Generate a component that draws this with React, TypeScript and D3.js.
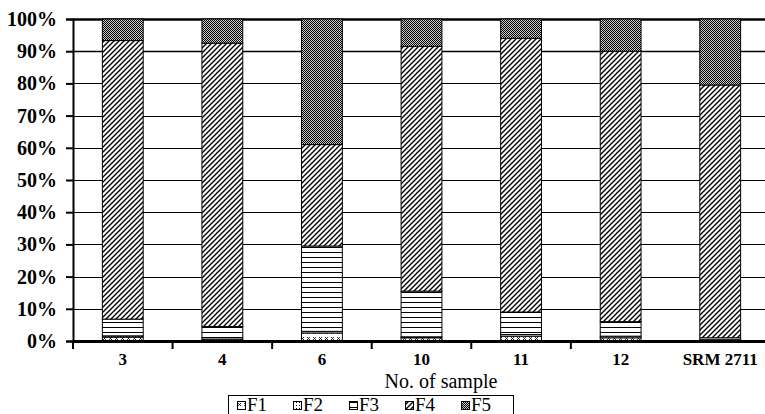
import React, { useEffect, useRef } from "react";
import * as d3 from "d3";

const samples = ["3", "4", "6", "10", "11", "12", "SRM 2711"];
const seriesNames = ["F1", "F2", "F3", "F4", "F5"];
// percentages of each fraction, bottom to top
const F1 = [1.2, 0.4, 2.5, 1.0, 1.5, 1.0, 0.2];
const F2 = [0.4, 0.6, 0.5, 0.3, 0.5, 0.5, 0.2];
const F3 = [5.2, 3.5, 26.5, 14.2, 7.0, 4.5, 0.6];
const F4 = [86.5, 88.0, 31.5, 76.0, 85.0, 84.0, 78.5];
const F5 = [6.7, 7.5, 39.0, 8.5, 6.0, 10.0, 20.5];
const yTicks = [0, 10, 20, 30, 40, 50, 60, 70, 80, 90, 100];

const patternIds = ["pF1", "pF2", "pF3", "pF4", "pF5"];

export default function App() {
  const ref = useRef<SVGSVGElement>(null);

  useEffect(() => {
    const svg = d3.select(ref.current);
    svg.selectAll("*").remove();

    const left = 73, right = 770, top = 19, bottom = 341;
    const font = "'Liberation Serif', 'Times New Roman', serif";

    // patterns
    const defs = svg.append("defs");
    const p1 = defs.append("pattern").attr("id", "pF1").attr("patternUnits", "userSpaceOnUse").attr("width", 6).attr("height", 6);
    p1.append("rect").attr("width", 6).attr("height", 6).attr("fill", "#fff");
    p1.append("path").attr("d", "M1,1L4,4M4,1L1,4").attr("stroke", "#000").attr("stroke-width", 0.8);
    const p2 = defs.append("pattern").attr("id", "pF2").attr("patternUnits", "userSpaceOnUse").attr("width", 3).attr("height", 3);
    p2.append("rect").attr("width", 3).attr("height", 3).attr("fill", "#fff");
    p2.append("rect").attr("width", 1).attr("height", 1).attr("fill", "#000");
    const p3 = defs.append("pattern").attr("id", "pF3").attr("patternUnits", "userSpaceOnUse").attr("width", 8).attr("height", 5);
    p3.append("rect").attr("width", 8).attr("height", 5).attr("fill", "#fff");
    p3.append("rect").attr("y", 2).attr("width", 8).attr("height", 1).attr("fill", "#000");
    const p4 = defs.append("pattern").attr("id", "pF4").attr("patternUnits", "userSpaceOnUse").attr("width", 5).attr("height", 5);
    p4.append("rect").attr("width", 5).attr("height", 5).attr("fill", "#fff");
    p4.append("path").attr("d", "M-1,6L6,-1M-1,1L1,-1M4,6L6,4").attr("stroke", "#000").attr("stroke-width", 1.4);
    const p5 = defs.append("pattern").attr("id", "pF5").attr("patternUnits", "userSpaceOnUse").attr("width", 2).attr("height", 2);
    p5.append("rect").attr("width", 2).attr("height", 2).attr("fill", "#c8c8c8");
    p5.append("rect").attr("width", 1).attr("height", 1).attr("fill", "#000");
    p5.append("rect").attr("x", 1).attr("y", 1).attr("width", 1).attr("height", 1).attr("fill", "#000");

    const x = d3.scaleBand().domain(samples).range([left, right]).padding(0);
    const y = d3.scaleLinear().domain([0, 100]).range([bottom, top]);
    const barW = x.step() * 0.41;

    // gridlines
    svg.append("g")
      .selectAll("line")
      .data(yTicks)
      .join("line")
      .attr("x1", left)
      .attr("x2", right)
      .attr("y1", (d) => Math.round(y(d)) + 0.5)
      .attr("y2", (d) => Math.round(y(d)) + 0.5)
      .attr("stroke", "#000")
      .attr("stroke-width", (d) => (d === 100 ? 2.5 : d === 90 ? 1.5 : 1));

    // stacked bars
    const rows = samples.map((s, i) => ({ sample: s, F1: F1[i], F2: F2[i], F3: F3[i], F4: F4[i], F5: F5[i] }));
    const stacked = d3.stack<any>().keys(seriesNames)(rows);
    svg.append("g")
      .selectAll("g")
      .data(stacked)
      .join("g")
      .attr("fill", (d, i) => `url(#${patternIds[i]})`)
      .selectAll("rect")
      .data((d) => d)
      .join("rect")
      .attr("x", (d: any) => x(d.data.sample)! + (x.step() - barW) / 2)
      .attr("y", (d) => y(d[1]))
      .attr("width", barW)
      .attr("height", (d) => Math.max(0, y(d[0]) - y(d[1])))
      .attr("stroke", "#000")
      .attr("stroke-width", 1);

    // y-axis
    const yAxis = svg.append("g")
      .attr("transform", `translate(${left},0)`)
      .call(d3.axisLeft(y).tickValues(yTicks).tickSize(7).tickPadding(9).tickFormat((d) => `${d}%`));
    yAxis.select(".domain").attr("stroke-width", 2);
    yAxis.selectAll(".tick line").attr("stroke-width", 2);
    yAxis.selectAll("text").style("font-family", font).style("font-size", "20px").style("font-weight", "bold").attr("fill", "#000");

    // x-axis
    const xAxis = svg.append("g")
      .attr("transform", `translate(0,${bottom})`)
      .call(d3.axisBottom(x).tickSize(0).tickPadding(12));
    xAxis.select(".domain").attr("stroke-width", 3);
    xAxis.selectAll("text").style("font-family", font).style("font-size", "17px").style("font-weight", "bold").attr("fill", "#000");
    xAxis.selectAll(".bnd")
      .data(samples.slice(0, -1).map((s) => x(s)!))
      .join("line")
      .attr("class", "bnd")
      .attr("x1", (d) => d)
      .attr("x2", (d) => d)
      .attr("y1", 0)
      .attr("y2", 8)
      .attr("stroke", "#000")
      .attr("stroke-width", 2);

    // x-axis title
    svg.append("text")
      .attr("x", 441)
      .attr("y", 388)
      .attr("text-anchor", "middle")
      .style("font-family", font)
      .style("font-size", "20px")
      .text("No. of sample");

    // legend
    const lg = svg.append("g");
    lg.append("rect")
      .attr("x", 228.5)
      .attr("y", 395.5)
      .attr("width", 285)
      .attr("height", 30)
      .attr("fill", "#fff")
      .attr("stroke", "#000");
    const items = lg.selectAll("g.item")
      .data(seriesNames)
      .join("g")
      .attr("class", "item")
      .attr("transform", (d, i) => `translate(${237 + i * 56},0)`);
    items.append("rect")
      .attr("x", 0.5)
      .attr("y", 401.5)
      .attr("width", 8)
      .attr("height", 8)
      .attr("fill", (d, i) => `url(#${patternIds[i]})`)
      .attr("stroke", "#000");
    items.append("text")
      .attr("x", 10)
      .attr("y", 411)
      .style("font-family", font)
      .style("font-size", "19px")
      .text((d) => d);
  }, []);

  return <svg ref={ref} width={765} height={414} style={{ position: "absolute", left: 0, top: 0 }} />;
}
